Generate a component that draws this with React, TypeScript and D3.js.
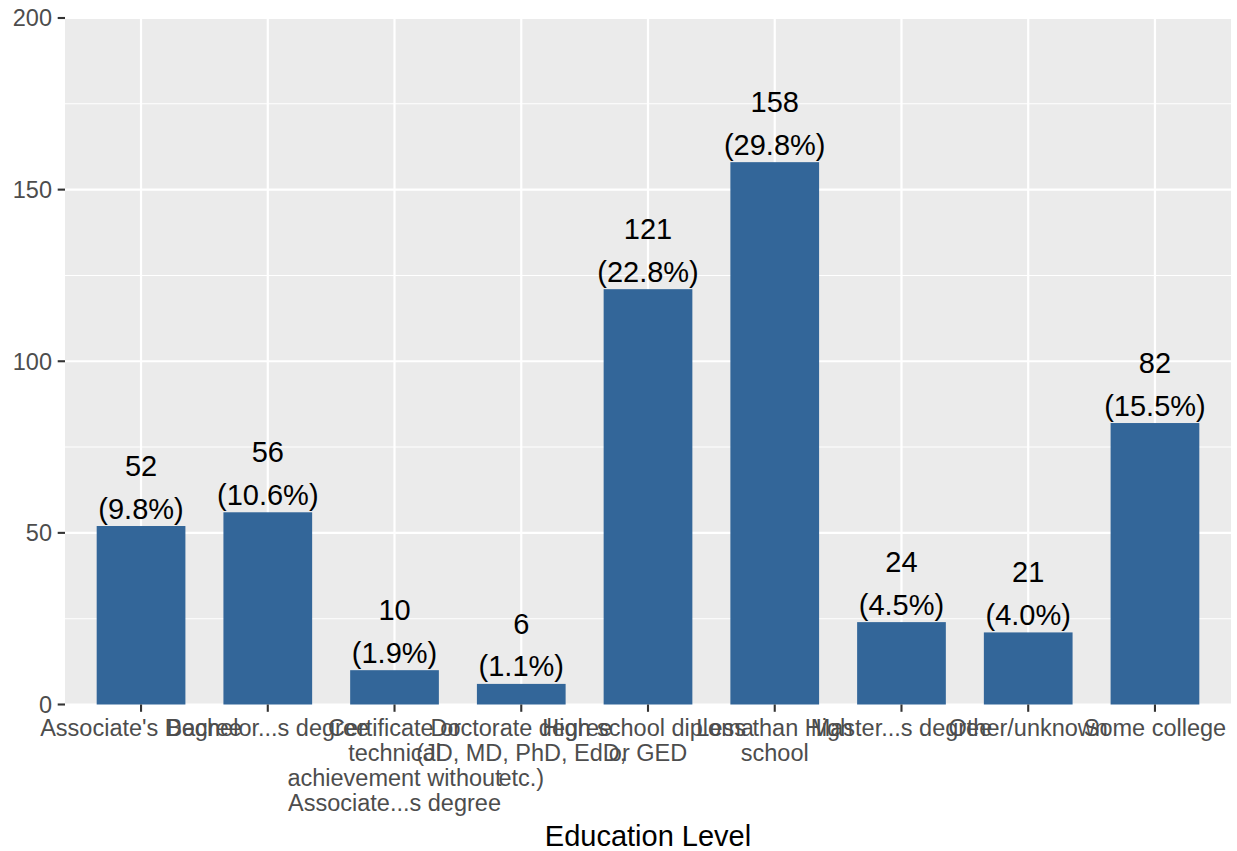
import React from "react";
import * as d3 from "d3";

const categories: string[][] = [
  ["Associate's Degree"],
  ["Bachelor...s degree"],
  ["Certificate or", "technical", "achievement without", "Associate...s degree"],
  ["Doctorate degree", "(JD, MD, PhD, EdD,", "etc.)"],
  ["High school diploma", "or GED"],
  ["Less than High", "school"],
  ["Master...s degree"],
  ["Other/unknown"],
  ["Some college"],
];
const counts: number[] = [52, 56, 10, 6, 121, 158, 24, 21, 82];
const percents: string[] = ["9.8%", "10.6%", "1.9%", "1.1%", "22.8%", "29.8%", "4.5%", "4.0%", "15.5%"];
const yTicks: number[] = [0, 50, 100, 150, 200];
const yMinor: number[] = [25, 75, 125, 175];
const xTitle = "Education Level";

const W = 1237;
const H = 851;
const left = 65;
const right = 1231;
const top = 18;
const bottom = 704.5;
const FONT = "'Liberation Sans', Arial, Helvetica, sans-serif";
const BAR = "#336699";

export default function App() {
  const keys = categories.map((_, i) => String(i));
  const x = d3.scalePoint<string>().domain(keys).range([left, right]).padding(0.6);
  const y = d3.scaleLinear().domain([0, 200]).range([bottom, top]);
  const step = x.step();
  const bw = step * 0.7;

  return (
    <svg
      width={W}
      height={H}
      style={{ position: "absolute", left: 0, top: 0, display: "block", background: "#fff" }}
      fontFamily={FONT}
    >
      <rect x={left} y={top} width={right - left} height={bottom - top} fill="#EBEBEB" />
      {yMinor.map((t) => (
        <line key={"mn" + t} x1={left} x2={right} y1={y(t)} y2={y(t)} stroke="#fff" strokeWidth={1.1} />
      ))}
      {yTicks.map((t) => (
        <line key={"mj" + t} x1={left} x2={right} y1={y(t)} y2={y(t)} stroke="#fff" strokeWidth={2.2} />
      ))}
      {keys.map((k) => (
        <line key={"vx" + k} x1={x(k)!} x2={x(k)!} y1={top} y2={bottom} stroke="#fff" strokeWidth={2.2} />
      ))}
      {counts.map((c, i) => {
        const cx = x(keys[i])!;
        return (
          <rect key={"b" + i} x={cx - bw / 2} y={y(c)} width={bw} height={y(0) - y(c)} fill={BAR} />
        );
      })}
      {counts.map((c, i) => {
        const cx = x(keys[i])!;
        const base = y(c) - 7.5;
        return (
          <g key={"l" + i} fontSize={29} fill="#000" textAnchor="middle">
            <text x={cx} y={base - 42.5}>{c}</text>
            <text x={cx} y={base}>({percents[i]})</text>
          </g>
        );
      })}
      {/* y axis */}
      {yTicks.map((t) => (
        <g key={"yt" + t}>
          <line x1={left - 7.3} x2={left} y1={y(t)} y2={y(t)} stroke="#333" strokeWidth={2.1} />
          <text x={left - 13} y={y(t)} dy="0.36em" textAnchor="end" fontSize={23.5} fill="#4D4D4D">
            {t}
          </text>
        </g>
      ))}
      {/* x axis */}
      {keys.map((k, i) => (
        <g key={"xt" + k}>
          <line x1={x(k)!} x2={x(k)!} y1={bottom} y2={bottom + 7.3} stroke="#333" strokeWidth={2.1} />
          {categories[i].map((ln, j) => (
            <text key={j} x={x(k)!} y={736 + j * 25} textAnchor="middle" fontSize={23.5} fill="#4D4D4D">
              {ln}
            </text>
          ))}
        </g>
      ))}
      <text x={(left + right) / 2} y={846} textAnchor="middle" fontSize={29} fill="#000">
        {xTitle}
      </text>
    </svg>
  );
}
